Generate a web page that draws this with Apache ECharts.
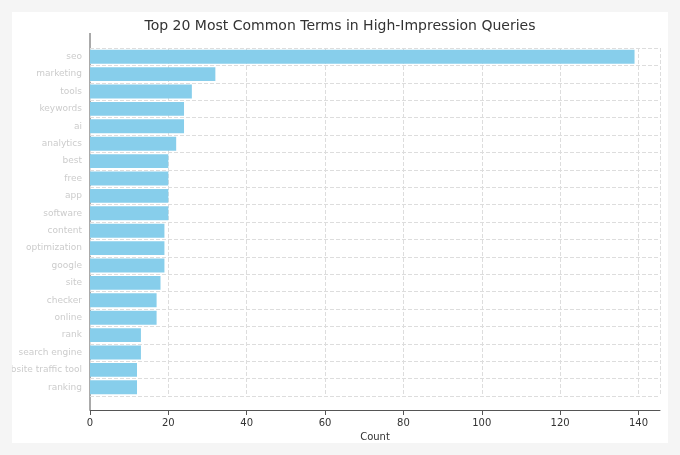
<!DOCTYPE html><html><head><meta charset="utf-8"><script src="https://cdn.jsdelivr.net/npm/echarts@6/dist/echarts.min.js"></script>
<style>body{margin:0;background:#f5f5f5}#c{position:absolute;left:12px;top:12px;width:656px;height:431px;background:#fff}</style></head><body><div id="c"></div><script>
const terms=["seo","marketing","tools","keywords","ai","analytics","best","free","app","software","content","optimization","google","site","checker","online","rank","search engine","website traffic tool","ranking"];
const counts=[139,32,26,24,24,22,20,20,20,20,19,19,19,18,17,17,13,13,12,12];
const xTicks=[0,20,40,60,80,100,120,140];
const ch=echarts.init(document.getElementById('c'));
ch.setOption({
 title:{text:"Top 20 Most Common Terms in High-Impression Queries",left:'center',top:2,textStyle:{fontFamily:'DejaVu Sans',fontSize:14,fontWeight:'normal',color:'#333'}},
 grid:{left:78,right:8,top:36,bottom:47,outerBoundsMode:'none',containLabel:false},
 xAxis:{type:'value',min:0,max:145.5,interval:20,offset:14,name:'Count',nameLocation:'middle',nameGap:22,nameTextStyle:{fontFamily:'DejaVu Sans',fontSize:10,color:'#333'},
  axisLabel:{fontFamily:'DejaVu Sans',fontSize:10,color:'#333',showMaxLabel:false,formatter:v=>xTicks.includes(v)?v:''},
  axisLine:{show:true,lineStyle:{color:'#555'}},axisTick:{show:true,lineStyle:{color:'#555'}},
  splitLine:{lineStyle:{type:'dashed',color:'#ddd'}}},
 yAxis:{type:'category',inverse:true,data:terms,
  axisLabel:{fontFamily:'DejaVu Sans',fontSize:9,color:'#ccc'},
  axisLine:{show:false},axisTick:{alignWithLabel:true,lineStyle:{color:'#555'}},
  splitLine:{show:true,interval:0,lineStyle:{type:'dashed',color:'#ddd'}}},
 graphic:[{type:'line',shape:{x1:78,y1:21,x2:78,y2:398},style:{stroke:'#555',lineWidth:1}}],
 series:[{type:'bar',data:counts,barCategoryGap:'20%',itemStyle:{color:'#87ceeb'},animation:false}]
});
</script></body></html>
